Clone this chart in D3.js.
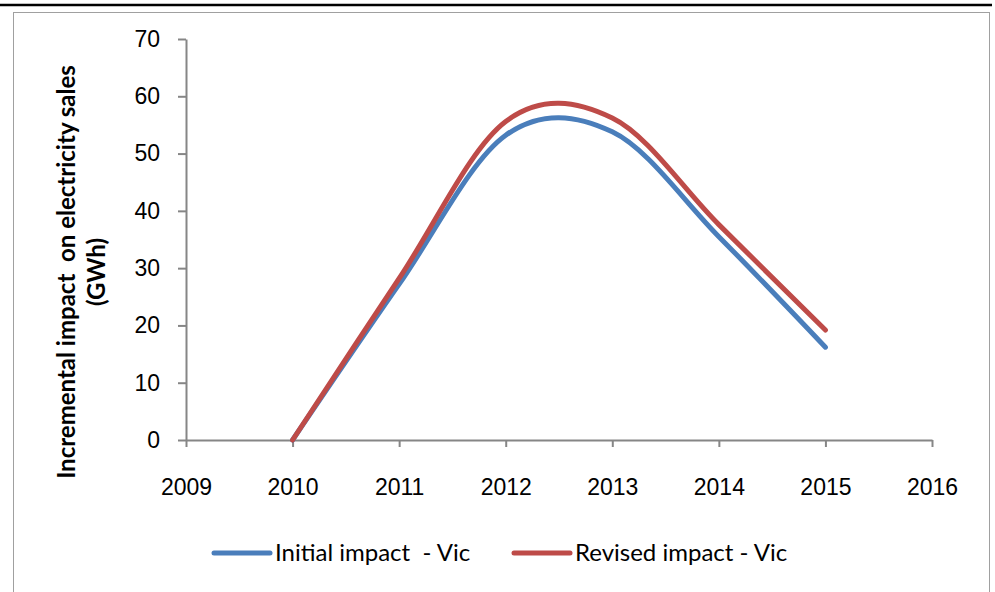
<!DOCTYPE html>
<html>
<head>
<meta charset="utf-8">
<script src="https://cdn.jsdelivr.net/npm/d3@7"></script>
<style>
  body { margin: 0; background: #fff; }
  svg { display: block; font-family: Lato, "Open Sans", sans-serif; }
  text { white-space: pre; }
</style>
</head>
<body>
<script>

// years on x axis
let years = [2010, 2011, 2012, 2013, 2014, 2015];

// series values (GWh)
let initialVic = [0, 27.2, 53.2, 53.8, 35.5, 16.2];
let revisedVic = [0, 28.2, 55.6, 56.2, 37.6, 19.2];

let seriesNames = ["Initial impact  - Vic", "Revised impact - Vic"];
let seriesColors = ["#4a7ebb", "#be4b48"];

let xTicks = [2009, 2010, 2011, 2012, 2013, 2014, 2015, 2016];
let yTicks = [0, 10, 20, 30, 40, 50, 60, 70];

let width = 995;
let height = 592;
let margin = ({top: 39, right: 63, bottom: 152, left: 186});
let axisColor = "#868686";

function init() {

  let svg = d3.select("body")
    .append("svg")
    .attr("width", width)
    .attr("height", height);

  // top rule and chart frame
  svg.append("line")
    .attr("x1", 0).attr("x2", 992)
    .attr("y1", 5).attr("y2", 5)
    .attr("stroke", "#000")
    .attr("stroke-width", 2.5);

  svg.append("rect")
    .attr("x", 13.5).attr("y", 12.5)
    .attr("width", 976).attr("height", 600)
    .attr("fill", "none")
    .attr("stroke", "#a0a0a0")
    .attr("stroke-width", 1);

  let x = d3.scaleLinear()
    .domain([2009, 2016])
    .range([margin.left, width - margin.right]);

  let y = d3.scaleLinear()
    .domain([0, 70])
    .range([height - margin.bottom, margin.top]);

  // x axis
  let xAxis = g => g
    .attr("transform", `translate(0,${height - margin.bottom})`)
    .call(d3.axisBottom(x).tickValues(xTicks).tickFormat(d3.format("d"))
      .tickSize(7).tickSizeOuter(0).tickPadding(32))
    .call(g => g.selectAll("line, path").attr("stroke", axisColor).attr("stroke-width", 2))
    .call(g => g.selectAll("text").attr("font-size", 23).attr("fill", "#000"));

  // y axis
  let yAxis = g => g
    .attr("transform", `translate(${margin.left},0)`)
    .call(d3.axisLeft(y).tickValues(yTicks).tickSize(8).tickSizeOuter(0).tickPadding(18))
    .call(g => g.selectAll("line, path").attr("stroke", axisColor).attr("stroke-width", 2))
    .call(g => g.selectAll("text").attr("font-size", 23).attr("fill", "#000"));

  svg.append("g").call(xAxis);
  svg.append("g").call(yAxis);

  // y axis title
  let title = svg.append("text")
    .attr("transform", "translate(82,272) rotate(-90)")
    .attr("text-anchor", "middle")
    .attr("font-size", 24)
    .attr("font-weight", "bold");
  title.append("tspan").attr("x", 0).attr("dy", "-0.3em").text("Incremental impact  on electricity sales");
  title.append("tspan").attr("x", 0).attr("dy", "1.25em").text("(GWh)");

  // lines
  let line = d3.line()
    .x(d => x(d[0]))
    .y(d => y(d[1]))
    .curve(d3.curveCardinal);

  let series = [initialVic, revisedVic];

  svg.append("g")
    .selectAll("path")
    .data(series)
    .join("path")
      .attr("d", s => line(years.map((yr, i) => [yr, s[i]])))
      .attr("fill", "none")
      .attr("stroke", (s, i) => seriesColors[i])
      .attr("stroke-width", 5)
      .attr("stroke-linecap", "round")
      .attr("stroke-linejoin", "round");

  // legend
  let legendX = [214, 514];
  let legend = svg.append("g")
    .selectAll("g")
    .data(seriesNames)
    .join("g")
      .attr("transform", (d, i) => `translate(${legendX[i]},553)`);

  legend.append("line")
    .attr("x1", 0).attr("x2", 56)
    .attr("stroke", (d, i) => seriesColors[i])
    .attr("stroke-width", 5)
    .attr("stroke-linecap", "round");

  legend.append("text")
    .attr("x", 61)
    .attr("dy", "0.35em")
    .attr("font-size", 24)
    .text(d => d);

  return svg.node();
}

init();
</script>
</body>
</html>
